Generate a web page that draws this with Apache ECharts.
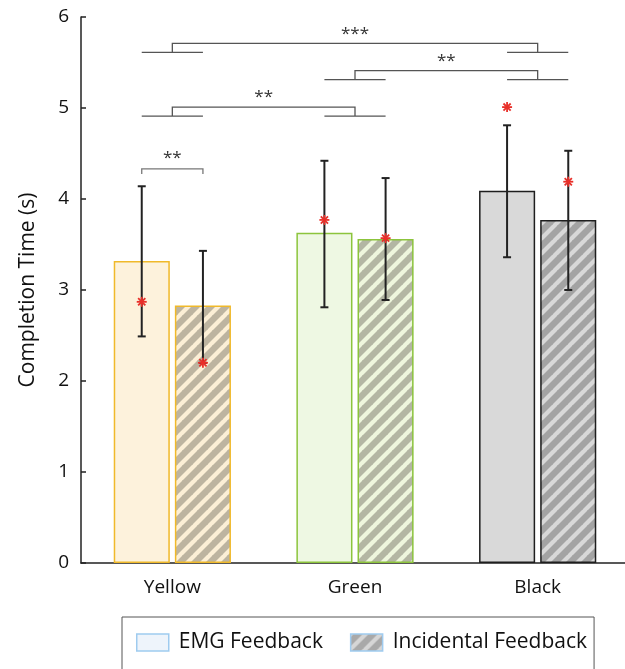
<!DOCTYPE html>
<html><head><meta charset="utf-8">
<script src="https://cdn.jsdelivr.net/npm/echarts@6/dist/echarts.min.js"></script>
<style>html,body{margin:0;padding:0;background:#fff}#c{width:625px;height:669px}</style>
</head><body><div id="c"></div>
<script>
const categories = ['Yellow', 'Green', 'Black'];
const yTicks = [0, 1, 2, 3, 4, 5, 6];
const emgMean = [3.32, 3.63, 4.09];
const incMean = [2.83, 3.56, 3.77];
const emgLow = [2.49, 2.81, 3.36];
const emgHigh = [4.14, 4.42, 4.81];
const emgStar = [2.87, 3.77, 5.01];
const incLow = [2.20, 2.89, 3.00];
const incHigh = [3.43, 4.23, 4.53];
const incStar = [2.20, 3.57, 4.19];
// group comparisons: [fromCategory, toCategory, level, label]
const groupBrackets = [[0, 2, 5.71, '***'], [1, 2, 5.41, '**'], [0, 1, 5.01, '**']];
// within-category comparisons: [category, level, label]
const pairBrackets = [[0, 4.33, '**']];

const emgFill = ['#fdf2dc', '#eef8e3', '#d9d9d9'];
const emgBorder = ['#f0b92a', '#8cc43c', '#1e1e1e'];
const incDark = ['#bdb4a0', '#b3b6a3', '#a3a3a3'];
const incLight = ['#fcefd6', '#eef6dd', '#d8d8d8'];

function hatch(dark, light) {
  const s = 15, c = document.createElement('canvas');
  c.width = s; c.height = s;
  const g = c.getContext('2d');
  g.fillStyle = dark; g.fillRect(0, 0, s, s);
  g.strokeStyle = light; g.lineWidth = 4.2;
  for (let k = -1; k <= 1; k++) {
    g.beginPath(); g.moveTo(k * s - 1, s + 1); g.lineTo(k * s + s + 1, -1); g.stroke();
  }
  return { image: c, repeat: 'repeat' };
}

const OFF = 0.1675;
const FONT = 'Open Sans';
const chart = echarts.init(document.getElementById('c'));

function cx(api, cat, off) {
  return api.coord([cat, 0])[0] + off * api.size([1, 0])[0];
}

const errData = [];
for (let i = 0; i < categories.length; i++) {
  errData.push([i, -1, emgLow[i], emgHigh[i], emgStar[i]]);
  errData.push([i, 1, incLow[i], incHigh[i], incStar[i]]);
}

chart.setOption({
  animation: false,
  grid: { left: 81, width: 548, top: 17, bottom: 106, outerBoundsMode: 'none', containLabel: false },
  xAxis: {
    type: 'category', data: categories,
    axisLine: { lineStyle: { color: '#222', width: 1.5 } },
    axisTick: { alignWithLabel: true, inside: true, length: 5, lineStyle: { color: '#222', width: 1.5 } },
    axisLabel: { fontFamily: FONT, fontSize: 19, color: '#111', margin: 15 }
  },
  yAxis: {
    type: 'value', min: 0, max: 6, interval: 1,
    name: 'Completion Time (s)', nameLocation: 'middle', nameGap: 42,
    nameTextStyle: { fontFamily: FONT, fontSize: 21, color: '#111' },
    axisLine: { show: true, lineStyle: { color: '#222', width: 1.5 } },
    axisTick: { show: true, inside: true, length: 5, lineStyle: { color: '#222', width: 1.5 } },
    axisLabel: { fontFamily: FONT, fontSize: 19, color: '#111', margin: 12,
      formatter: v => yTicks.includes(v) ? String(v) : '' },
    splitLine: { show: false }
  },
  legend: {
    left: 122, top: 617, orient: 'horizontal',
    itemWidth: 32, itemHeight: 17, itemGap: 27,
    padding: [15, 7, 40, 14],
    borderColor: '#555', borderWidth: 1,
    textStyle: { fontFamily: FONT, fontSize: 21, color: '#111', padding: [0, 0, 0, 5] },
    data: [
      { name: 'EMG Feedback', icon: 'rect', itemStyle: { color: '#eef4fb', borderColor: '#9fcbef', borderWidth: 1.5 } },
      { name: 'Incidental Feedback', icon: 'rect', itemStyle: { color: hatch('#a9a9a9', '#d6d6d6'), borderColor: '#9fcbef', borderWidth: 1.5 } }
    ]
  },
  series: [
    {
      name: 'EMG Feedback', type: 'bar', barWidth: '30.7%', barGap: '9%',
      data: emgMean.map((v, i) => ({ value: v, itemStyle: { color: emgFill[i], borderColor: emgBorder[i], borderWidth: 1.5 } }))
    },
    {
      name: 'Incidental Feedback', type: 'bar', barWidth: '30.7%', barGap: '9%',
      data: incMean.map((v, i) => ({ value: v, itemStyle: { color: hatch(incDark[i], incLight[i]), borderColor: emgBorder[i], borderWidth: 1.5 } }))
    },
    {
      type: 'custom', z: 5, data: errData,
      renderItem: (params, api) => {
        const x = cx(api, api.value(0), api.value(1) * OFF);
        const yl = api.coord([0, api.value(2)])[1];
        const yh = api.coord([0, api.value(3)])[1];
        const ys = api.coord([0, api.value(4)])[1];
        const st = { stroke: '#222', lineWidth: 2 };
        const rs = { stroke: '#e8302a', lineWidth: 1.8 };
        const r = 5, d = 3.6;
        return { type: 'group', children: [
          { type: 'line', shape: { x1: x, y1: yl, x2: x, y2: yh }, style: st },
          { type: 'line', shape: { x1: x - 4, y1: yl, x2: x + 4, y2: yl }, style: st },
          { type: 'line', shape: { x1: x - 4, y1: yh, x2: x + 4, y2: yh }, style: st },
          { type: 'line', shape: { x1: x - r, y1: ys, x2: x + r, y2: ys }, style: rs },
          { type: 'line', shape: { x1: x, y1: ys - r, x2: x, y2: ys + r }, style: rs },
          { type: 'line', shape: { x1: x - d, y1: ys - d, x2: x + d, y2: ys + d }, style: rs },
          { type: 'line', shape: { x1: x - d, y1: ys + d, x2: x + d, y2: ys - d }, style: rs }
        ] };
      }
    },
    {
      type: 'custom', z: 5, data: groupBrackets,
      renderItem: (params, api) => {
        const a = api.value(0), b = api.value(1);
        const y = api.coord([0, api.value(2)])[1];
        const xa = cx(api, a, 0), xb = cx(api, b, 0);
        const yf = y + 9;
        const st = { stroke: '#555', lineWidth: 1.3, fill: null };
        return { type: 'group', children: [
          { type: 'polyline', shape: { points: [[xa, yf], [xa, y], [xb, y], [xb, yf]] }, style: st },
          { type: 'line', shape: { x1: cx(api, a, -OFF), y1: yf, x2: cx(api, a, OFF), y2: yf }, style: st },
          { type: 'line', shape: { x1: cx(api, b, -OFF), y1: yf, x2: cx(api, b, OFF), y2: yf }, style: st },
          { type: 'text', style: { text: groupBrackets[params.dataIndex][3], x: (xa + xb) / 2, y: y - 1,
            align: 'center', verticalAlign: 'bottom', fill: '#333', font: '17px "' + FONT + '"' } }
        ] };
      }
    },
    {
      type: 'custom', z: 5, data: pairBrackets,
      renderItem: (params, api) => {
        const c = api.value(0);
        const y = api.coord([0, api.value(1)])[1];
        const xa = cx(api, c, -OFF), xb = cx(api, c, OFF);
        const st = { stroke: '#777', lineWidth: 1.3, fill: null };
        return { type: 'group', children: [
          { type: 'polyline', shape: { points: [[xa, y + 5], [xa, y], [xb, y], [xb, y + 5]] }, style: st },
          { type: 'text', style: { text: pairBrackets[params.dataIndex][2], x: (xa + xb) / 2, y: y - 2,
            align: 'center', verticalAlign: 'bottom', fill: '#333', font: '17px "' + FONT + '"' } }
        ] };
      }
    }
  ]
});
</script></body></html>
